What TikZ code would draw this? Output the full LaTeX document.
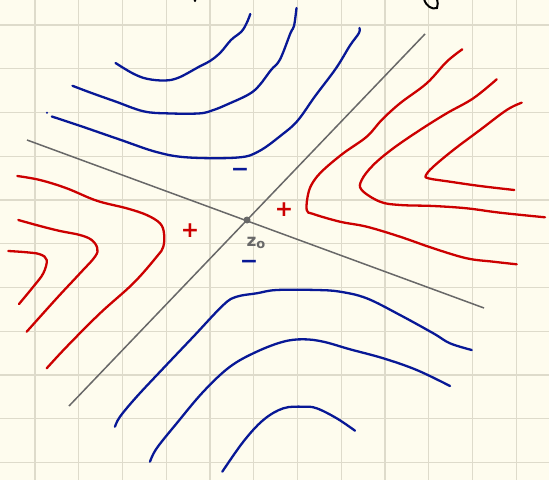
\documentclass[tikz,border=0pt]{standalone}
\usepackage{fontspec}
\setmainfont{DejaVu Sans}
\definecolor{paper}{RGB}{254,252,238}
\definecolor{gridc}{RGB}{222,219,203}
\definecolor{inkblue}{RGB}{8,24,150}
\definecolor{inkred}{RGB}{204,0,0}
\definecolor{inkgray}{RGB}{104,104,104}
\begin{document}
\begin{tikzpicture}[x=1bp,y=-1bp,
  bluecurve/.style={inkblue,line width=2.3bp,line cap=round,line join=round},
  redcurve/.style={inkred,line width=2.3bp,line cap=round,line join=round},
  axisline/.style={inkgray,line width=1.5bp},
  gridline/.style={gridc,line width=1.4bp},
  sign/.style={font=\bfseries\fontsize{22}{22}\selectfont,inner sep=0pt}]
\useasboundingbox (0,0) rectangle (549,480);
\fill[paper] (0,0) rectangle (549,480);
% grid
\foreach \i in {0,...,11} \draw[gridline] ({35+43.75*\i},0) -- ({35+43.75*\i},480);
\foreach \j in {0,...,10} \draw[gridline] (0,{25+43.75*\j}) -- (549,{25+43.75*\j});
% axes
\coordinate (a1) at (27,140);
\coordinate (a2) at (484,308);
\coordinate (b1) at (69,406);
\coordinate (b2) at (425,34);
\draw[axisline] (a1) -- (a2);
\draw[axisline] (b1) -- (b2);
\node[circle,fill=inkgray,inner sep=0pt,minimum size=7bp] (z0) at (247,220) {};
\node[inkgray,font=\bfseries\fontsize{17}{17}\selectfont,inner sep=0pt] (z0lab) at (256,243) {z\raisebox{-2.5bp}{\fontsize{13}{13}\selectfont o}};
% top blue curves
\draw[bluecurve] plot[smooth,tension=0.6] coordinates {(115.5,63) (133,73.5) (147,78.8) (164.5,80.5) (178.5,77.7) (199.5,66.5) (210,61) (220.5,52.5) (231,40) (241.5,31.5) (246.8,22.8) (250.3,14)};
\draw[bluecurve] plot[smooth,tension=0.6] coordinates {(72.5,85.8) (91,92.8) (115.5,101.5) (143.5,111.3) (168,113.4) (199.5,113.4) (213.5,110) (227.5,104.3) (248.5,94.5) (259,85.8) (271,70) (280,59.5) (290.5,33) (294,26) (296.5,8)};
\draw[bluecurve] plot[smooth,tension=0.6] coordinates {(51.8,116.5) (80.5,126) (119,139.3) (157.5,152.3) (189,157.5) (238,157.5) (259,151.2) (281.8,134.8) (297.5,120.8) (315,96.3) (336,68.3) (350,45.5) (358.8,33.3) (359.5,28)};
\fill[inkblue] (47,112.7) circle (1.1bp);
% bottom blue curves
\draw[bluecurve] plot[smooth,tension=0.6] coordinates {(115,426.7) (120,416.7) (136.7,396.7) (163.3,368.3) (193.3,336.7) (223.3,305) (236.7,296.7) (256.7,293.3) (276.7,290) (316.7,290) (340,291.7) (366.7,298.3) (400,315) (433.3,333.3) (450,343.3) (471.7,350)};
\draw[bluecurve] plot[smooth,tension=0.6] coordinates {(150,461.7) (156.7,448.3) (176.7,423.3) (203.3,391.7) (230,366.7) (256.7,351.7) (283.3,341.7) (303.3,339.3) (323.3,341.7) (350,349.3) (383.3,358.3) (416.7,370) (450,386)};
\draw[bluecurve] plot[smooth,tension=0.6] coordinates {(222.3,471.7) (243.3,441.7) (263.3,420) (283.3,408.3) (303.3,406.7) (316.7,408.3) (336.7,418.3) (355,430.7)};
% right red curves
\draw[redcurve] plot[smooth,tension=0.6] coordinates {(462.3,49.3) (446.7,61.7) (426.7,83.3) (400,103.3) (381.7,120) (366.7,136.7) (343.3,153.3) (323.3,170) (313.3,181.7) (308.3,193.3) (306.7,210) (313.3,214) (340,221.7) (366.7,226.7) (400,236.7) (433.3,248.3) (466.7,258.3) (493.3,261.7) (516.7,264.3)};
\draw[redcurve] plot[smooth,tension=0.6] coordinates {(496.7,79.3) (473.3,98.3) (446.7,113.3) (420,130) (393.3,148.3) (373.3,165) (361.7,180) (361.7,190) (380,201.7) (400,205) (433.3,206) (466.7,208.3) (500,212.7) (545,217.3)};
\draw[redcurve] plot[smooth,tension=0.6] coordinates {(521.7,102.7) (506.7,110) (480,130) (453.3,150) (433.3,166.7) (426,175) (428.3,178.3) (450,181.7) (480,186) (514.3,190)};
% left red curves
\draw[redcurve] plot[smooth,tension=0.6] coordinates {(17.3,176) (40,180) (66.7,188.3) (96.7,200.7) (126.7,208.3) (146.7,215) (160,223.3) (164,233.3) (163.3,246.7) (156.7,256.7) (133.3,283.3) (100,313.3) (66.7,346.7) (46.7,368.3)};
\draw[redcurve] plot[smooth,tension=0.6] coordinates {(18.3,220) (40,226) (60,231) (80,235) (91.7,240) (97.3,248.3) (95,256.7) (80,273.3) (56.7,298.3) (26.7,331.7)};
\draw[redcurve] plot[smooth,tension=0.6] coordinates {(8.3,251) (26.7,252.3) (40,254.3) (46.7,260) (43.3,273.3) (33.3,286.7) (19,304)};
% signs
\node[sign,inkred] (p1) at (190,231) {+};
\node[sign,inkred] (p2) at (284,210) {+};
\node[sign,inkblue] (m1) at (240,172) {−};
\node[sign,inkblue] (m2) at (249,264) {−};
% clipped marks at top edge
\fill[black] (195,0.8) circle (1.3bp);
\draw[black,line width=2bp,line cap=round] (424,-1) .. controls (426,6) and (432,10) .. (437,8) .. controls (438,5) and (438,2) .. (437,-1);
\end{tikzpicture}
\end{document}
